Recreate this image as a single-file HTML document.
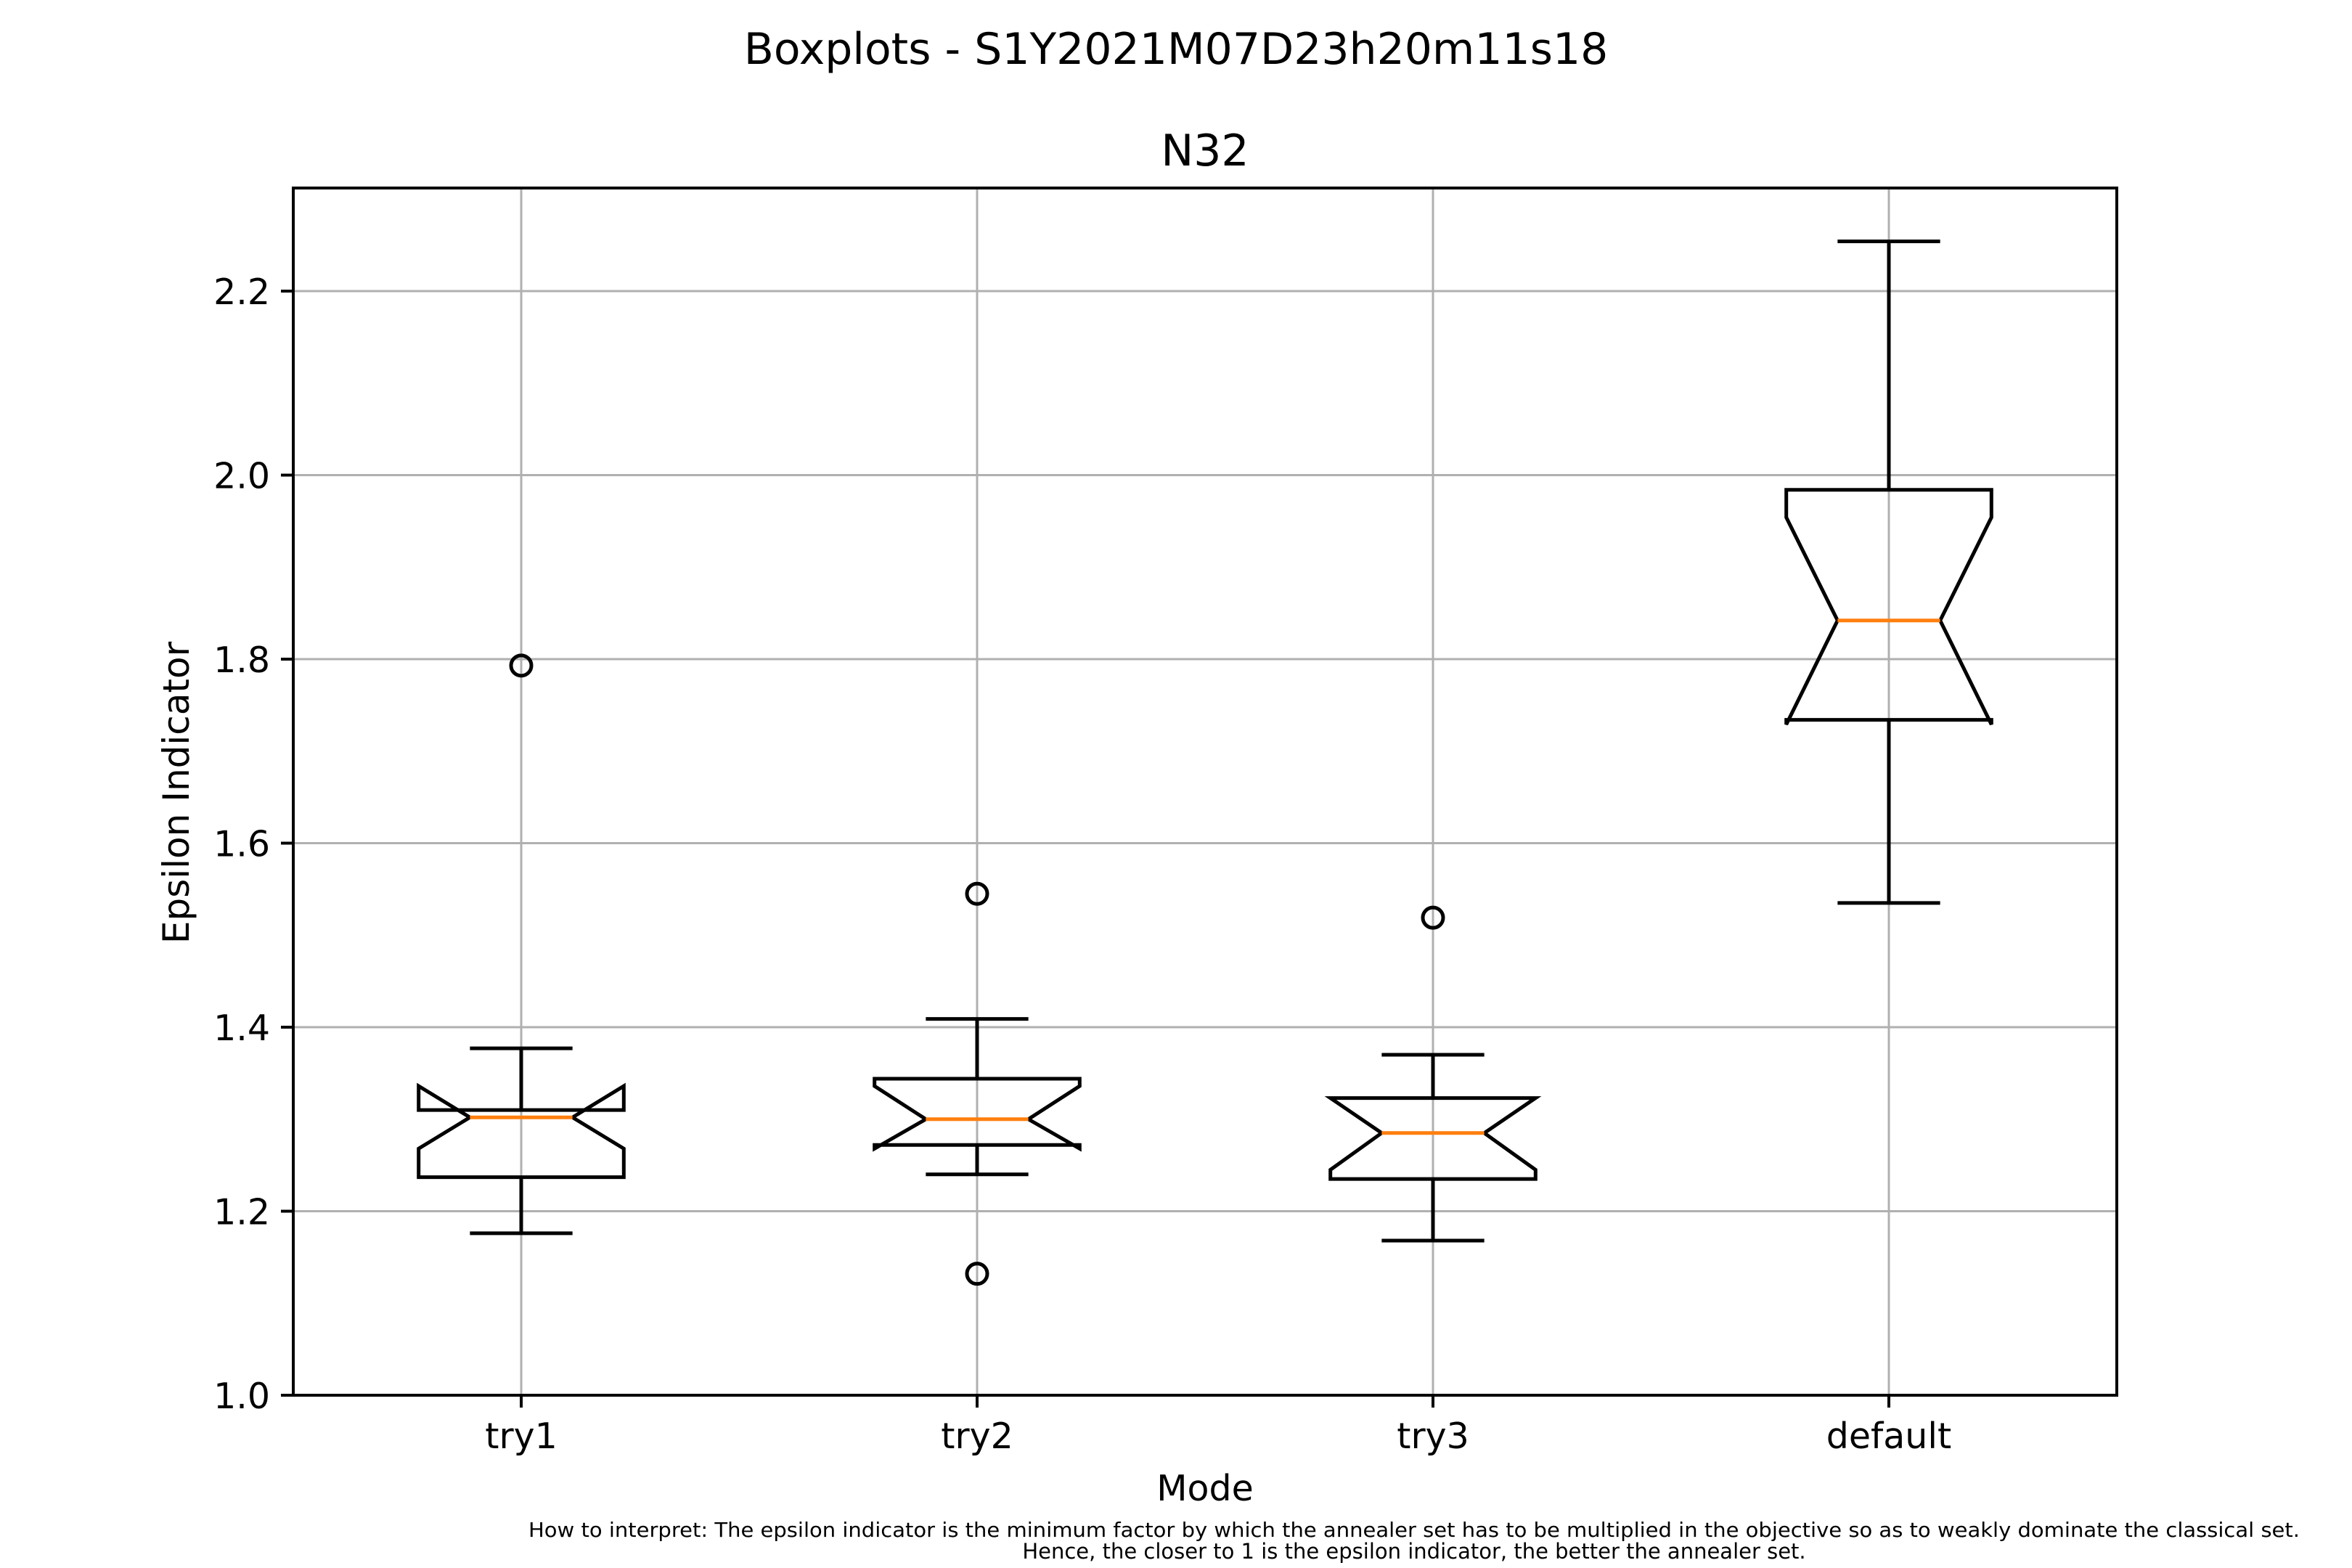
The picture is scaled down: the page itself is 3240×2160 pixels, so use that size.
<!DOCTYPE html>
<html><head><meta charset="utf-8">
<style>
html,body{margin:0;padding:0;background:#fff;}
svg{display:block;font-family:"DejaVu Sans","Liberation Sans",sans-serif;}
</style></head>
<body>
<svg id="chart" width="3240" height="2160" viewBox="0 0 3240 2160" xmlns="http://www.w3.org/2000/svg">
<rect x="0" y="0" width="3240" height="2160" fill="#fff"/>
<text x="1620" y="88" font-size="60" text-anchor="middle">Boxplots - S1Y2021M07D23h20m11s18</text>
<text x="1660" y="228" font-size="60" text-anchor="middle">N32</text>
<g id="grid"></g>
<g id="boxes"></g>
<rect x="404" y="259" width="2512" height="1663" fill="none" stroke="#000" stroke-width="4"/>
<g id="ticks"></g>
<text x="1660" y="2067" font-size="49" text-anchor="middle">Mode</text>
<text x="0" y="0" font-size="50" text-anchor="middle" transform="translate(260,1092) rotate(-90)">Epsilon Indicator</text>
<text x="1948" y="2117" font-size="28" text-anchor="middle" textLength="2440" lengthAdjust="spacingAndGlyphs">How to interpret: The epsilon indicator is the minimum factor by which the annealer set has to be multiplied in the objective so as to weakly dominate the classical set.</text>
<text x="1948" y="2147" font-size="29" text-anchor="middle">Hence, the closer to 1 is the epsilon indicator, the better the annealer set.</text>
</svg>
<script>
const categories = ["try1", "try2", "try3", "default"];
const whiskerLow = [1.176, 1.240, 1.168, 1.535];
const q1 = [1.237, 1.272, 1.235, 1.734];
const median = [1.302, 1.300, 1.285, 1.842];
const q3 = [1.310, 1.344, 1.323, 1.984];
const notchLow = [1.268, 1.268, 1.245, 1.729];
const notchHigh = [1.336, 1.336, 1.323, 1.954];
const whiskerHigh = [1.377, 1.409, 1.370, 2.254];
const outlierCat = [0, 1, 1, 2];
const outlierVal = [1.793, 1.545, 1.132, 1.519];
const yTicks = [1.0, 1.2, 1.4, 1.6, 1.8, 2.0, 2.2];

const NS = "http://www.w3.org/2000/svg";
const L = 404, R = 2916, T = 259, B = 1922;
const yMin = 1.0, yMax = 2.312;
function yS(v){ return B - (v - yMin) / (yMax - yMin) * (B - T); }
function xS(i){ return L + (i + 0.5) / categories.length * (R - L); }
const step = (R - L) / categories.length;
const halfW = step * 0.225, capW = halfW * 0.5;
const LW = 5;

function mk(tag, attrs, parent){
  const e = document.createElementNS(NS, tag);
  for (const k in attrs) e.setAttribute(k, attrs[k]);
  parent.appendChild(e); return e;
}
const grid = document.getElementById('grid');
const boxes = document.getElementById('boxes');
const ticks = document.getElementById('ticks');

yTicks.forEach(v => {
  const y = yS(v);
  const g = mk('line', {x1:L, x2:R, y1:y, y2:y, stroke:'#b0b0b0', 'stroke-width':3}, grid);
  
  
  const t = mk('line', {x1:L-17, x2:L, y1:y, y2:y, stroke:'#000', 'stroke-width':4}, ticks);
  
  
  const tx = mk('text', {x:L-32, y:y+18, 'font-size':49, 'text-anchor':'end'}, ticks);
  tx.textContent = v.toFixed(1);
  
  
});
categories.forEach((c, i) => {
  const x = xS(i);
  const g = mk('line', {x1:x, x2:x, y1:T, y2:B, stroke:'#b0b0b0', 'stroke-width':3}, grid);
  
  
  const t = mk('line', {x1:x, x2:x, y1:B, y2:B+17, stroke:'#000', 'stroke-width':4}, ticks);
  
  
  const tx = mk('text', {x:x, y:1995, 'font-size':49, 'text-anchor':'middle'}, ticks);
  tx.textContent = c;
  
  

  const w1 = mk('line', {x1:x, x2:x, y1:yS(q1[i]), y2:yS(whiskerLow[i]), stroke:'#000', 'stroke-width':LW}, boxes);
  
  
  const w2 = mk('line', {x1:x, x2:x, y1:yS(q3[i]), y2:yS(whiskerHigh[i]), stroke:'#000', 'stroke-width':LW}, boxes);
  
  
  const c1 = mk('line', {x1:x-capW, x2:x+capW, y1:yS(whiskerLow[i]), y2:yS(whiskerLow[i]), stroke:'#000', 'stroke-width':LW}, boxes);
  
  
  const c2 = mk('line', {x1:x-capW, x2:x+capW, y1:yS(whiskerHigh[i]), y2:yS(whiskerHigh[i]), stroke:'#000', 'stroke-width':LW}, boxes);
  
  

  const xl = x - halfW, xr = x + halfW, xnl = x - halfW*0.5, xnr = x + halfW*0.5;
  const pts = [
    [xl, yS(q1[i])], [xr, yS(q1[i])], [xr, yS(notchLow[i])], [xnr, yS(median[i])],
    [xr, yS(notchHigh[i])], [xr, yS(q3[i])], [xl, yS(q3[i])], [xl, yS(notchHigh[i])],
    [xnl, yS(median[i])], [xl, yS(notchLow[i])]
  ];
  const p = mk('polygon', {points: pts.map(q => q.join(',')).join(' '), fill:'none', stroke:'#000', 'stroke-width':LW, 'stroke-linejoin':'miter'}, boxes);
  
  
  const m = mk('line', {x1:xnl, x2:xnr, y1:yS(median[i]), y2:yS(median[i]), stroke:'#ff7f0e', 'stroke-width':LW}, boxes);
  
  
});
outlierVal.forEach((v, k) => {
  const o = mk('circle', {cx:xS(outlierCat[k]), cy:yS(v), r:14, fill:'none', stroke:'#000', 'stroke-width':LW}, boxes);
  
  
});
</script>
</body></html>
